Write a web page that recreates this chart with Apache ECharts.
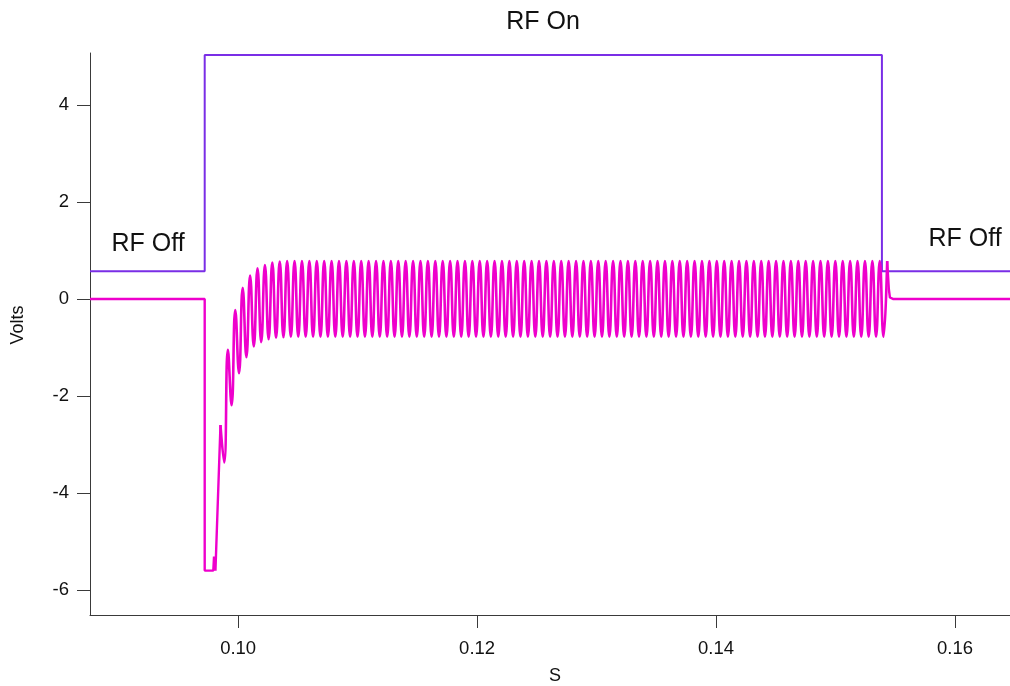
<!DOCTYPE html>
<html>
<head>
<meta charset="utf-8">
<script src="https://cdn.jsdelivr.net/npm/echarts@6/dist/echarts.min.js"></script>
<style>
  html, body { margin: 0; padding: 0; background: #fff; }
  #chart { width: 1010px; height: 686px; }
</style>
</head>
<body>
<div id="chart"></div>
<script>
// axis ticks
const timeTicks = [0.10, 0.12, 0.14, 0.16]
const voltTicks = [-6, -4, -2, 0, 2, 4]

// RF gate (purple step)
const gateTimes = [0.0876, 0.0972, 0.0972, 0.15388, 0.15388, 0.1646]
const gateVolts = [0.57, 0.57, 5.03, 5.03, 0.57, 0.57]

// detector output before the ringing starts
const leadTimes = [0.0876, 0.0972, 0.0972, 0.09792, 0.09798, 0.09810]
const leadVolts = [0, 0, -5.6, -5.6, -5.31, -5.6]

// ringing: peaks / troughs, one sample every half period
const ringStart = 0.09852
const ringHalfPeriod = 0.00031
const ringVolts = [
  -2.6, -3.37, -1.05, -2.19, -0.23, -1.53, 0.23, -1.2, 0.48, -0.98,
  0.63, -0.89, 0.70, -0.83, 0.75, -0.80, 0.77, -0.79,
  0.78, -0.78, 0.78, -0.78, 0.78, -0.78, 0.78, -0.78, 0.78, -0.78, 0.78, -0.78, 0.78, -0.78, 0.78, -0.78, 0.78, -0.78, 0.78, -0.78,
  0.78, -0.78, 0.78, -0.78, 0.78, -0.78, 0.78, -0.78, 0.78, -0.78, 0.78, -0.78, 0.78, -0.78, 0.78, -0.78, 0.78, -0.78, 0.78, -0.78,
  0.78, -0.78, 0.78, -0.78, 0.78, -0.78, 0.78, -0.78, 0.78, -0.78, 0.78, -0.78, 0.78, -0.78, 0.78, -0.78, 0.78, -0.78, 0.78, -0.78,
  0.78, -0.78, 0.78, -0.78, 0.78, -0.78, 0.78, -0.78, 0.78, -0.78, 0.78, -0.78, 0.78, -0.78, 0.78, -0.78, 0.78, -0.78, 0.78, -0.78,
  0.78, -0.78, 0.78, -0.78, 0.78, -0.78, 0.78, -0.78, 0.78, -0.78, 0.78, -0.78, 0.78, -0.78, 0.78, -0.78, 0.78, -0.78, 0.78, -0.78,
  0.78, -0.78, 0.78, -0.78, 0.78, -0.78, 0.78, -0.78, 0.78, -0.78, 0.78, -0.78, 0.78, -0.78, 0.78, -0.78, 0.78, -0.78, 0.78, -0.78,
  0.78, -0.78, 0.78, -0.78, 0.78, -0.78, 0.78, -0.78, 0.78, -0.78, 0.78, -0.78, 0.78, -0.78, 0.78, -0.78, 0.78, -0.78, 0.78, -0.78,
  0.78, -0.78, 0.78, -0.78, 0.78, -0.78, 0.78, -0.78, 0.78, -0.78, 0.78, -0.78, 0.78, -0.78, 0.78, -0.78, 0.78, -0.78, 0.78, -0.78,
  0.78, -0.78, 0.78
]

// after RF switches off
const tailTimes = [0.15446, 0.15455, 0.1548, 0.1646]
const tailVolts = [0.2, 0.03, 0, 0]

const purple = '#7a2ee6'
const magenta = '#ee00cc'
const font = '"Liberation Sans", Arial, Helvetica, sans-serif'

const zip = (xs, ys) => xs.map((x, i) => [x, ys[i]])
const ringData = ringVolts.map((v, i) => [ringStart + i * ringHalfPeriod, v])
// join the three pieces end to end
const leadData = zip(leadTimes, leadVolts).concat([ringData[0]])
const tailData = [ringData[ringData.length - 1]].concat(zip(tailTimes, tailVolts))

const textStyle = (text, size) => ({
  text: text, fontSize: size, fontFamily: font, fill: '#111', align: 'center', verticalAlign: 'middle',
})

const myChart = echarts.init(document.getElementById('chart'))
myChart.setOption({
  animation: false,
  grid: { left: 90, right: 0, top: 53, bottom: 71 },
  xAxis: {
    type: 'value',
    min: 0.0876,
    max: 0.1646,
    splitLine: { show: false },
    axisLine: { onZero: false, lineStyle: { color: '#3a3a3a', width: 1 } },
    axisTick: { length: 13, lineStyle: { color: '#3a3a3a' }, customValues: timeTicks },
    axisLabel: {
      customValues: timeTicks,
      margin: 24,
      fontSize: 18.5,
      color: '#111',
      fontFamily: font,
      formatter: (v) => v.toFixed(2),
    },
  },
  yAxis: {
    type: 'value',
    min: -6.515,
    max: 5.07,
    splitLine: { show: false },
    axisLine: { show: true, onZero: false, lineStyle: { color: '#3a3a3a', width: 1 } },
    axisTick: { show: true, length: 13, lineStyle: { color: '#3a3a3a' }, customValues: voltTicks },
    axisLabel: {
      customValues: voltTicks,
      margin: 21,
      fontSize: 18.5,
      color: '#111',
      fontFamily: font,
    },
  },
  graphic: [
    { type: 'text', x: 543, y: 22, style: textStyle('RF On', 25) },
    { type: 'text', x: 148, y: 244, style: textStyle('RF Off', 25) },
    { type: 'text', x: 965, y: 239, style: textStyle('RF Off', 25) },
    { type: 'text', x: 18, y: 325, rotation: Math.PI / 2, style: textStyle('Volts', 18) },
    { type: 'text', x: 555, y: 676, style: textStyle('S', 18) },
  ],
  series: [
    {
      type: 'line',
      data: zip(gateTimes, gateVolts),
      showSymbol: false,
      lineStyle: { color: purple, width: 2 },
      z: 2,
    },
    {
      type: 'line',
      data: leadData,
      showSymbol: false,
      lineStyle: { color: magenta, width: 2.4 },
      z: 3,
    },
    {
      type: 'line',
      data: ringData,
      smooth: 0.5,
      showSymbol: false,
      lineStyle: { color: magenta, width: 2.6 },
      z: 3,
    },
    {
      type: 'line',
      data: tailData,
      showSymbol: false,
      lineStyle: { color: magenta, width: 2.4 },
      z: 3,
    },
  ],
})
</script>
</body>
</html>
